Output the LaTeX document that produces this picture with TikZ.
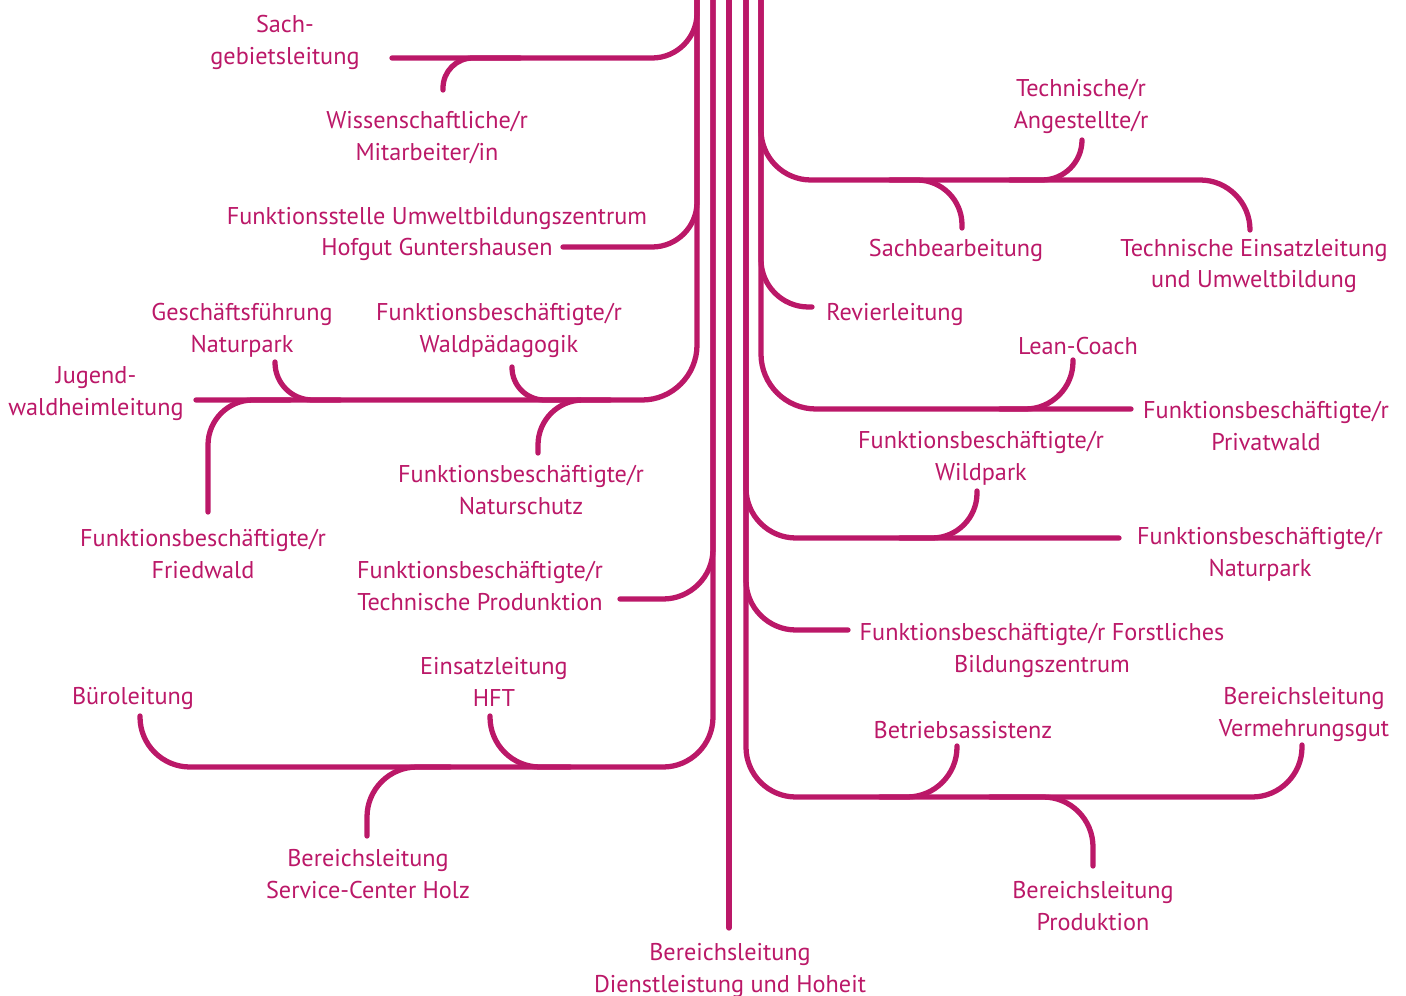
\documentclass[tikz,border=0pt]{standalone}
\usepackage{fontspec}
\setmainfont{PT Sans}
\usetikzlibrary{positioning}
\definecolor{berry}{RGB}{187,24,104}
\tikzset{%
	post/.style={text=berry, align=center, inner sep=0pt, yshift=-0.06cm,
		font=\fontsize{13.8}{18.2}\selectfont},
	stem/.style={draw=berry, line width=3pt, line cap=round},
	bend/.style={stem, rounded corners=#1},
	bend/.default=1cm
}

\begin{document}
\begin{tikzpicture}[x=0.02cm, y=-0.02cm]
	\useasboundingbox (0,0) rectangle (1406,996);

	% labels, left half
	\node[post] (sach) at (285,39) {Sach-\\gebietsleitung};
	\node[post] (wiss) at (427,135) {Wissenschaftliche/r\\Mitarbeiter/in};
	\node[post] (umwelt) at (437,231) {Funktionsstelle Umweltbildungszentrum\\Hofgut Guntershausen};
	\node[post] (jugend) at (96,391) {Jugend-\\waldheimleitung};
	\node[post] (gfnp) at (242,327) {Geschäftsführung\\Naturpark};
	\node[post] (wpaed) at (499,327) {Funktionsbeschäftigte/r\\Waldpädagogik};
	\node[post] (nschutz) at (521,487) {Funktionsbeschäftigte/r\\Naturschutz};
	\node[post] (fried) at (203,551) {Funktionsbeschäftigte/r\\Friedwald};
	\node[post] (tprod) at (480,583) {Funktionsbeschäftigte/r\\Technische Produnktion};
	\node[post] (buero) at (133,695) {Büroleitung};
	\node[post] (hft) at (494,679) {Einsatzleitung\\HFT};
	\node[post] (sch) at (368,871) {Bereichsleitung\\Service-Center Holz};
	\node[post] (dlh) at (730,967) {Bereichsleitung\\Dienstleistung und Hoheit};

	% labels, right half
	\node[post] (tang) at (1081,103) {Technische/r\\Angestellte/r};
	\node[post] (sachb) at (956,247) {Sachbearbeitung};
	\node[post] (teu) at (1254,263) {Technische Einsatzleitung\\und Umweltbildung};
	\node[post, anchor=west] (revier) at (826,311) {Revierleitung};
	\node[post] (lean) at (1078,343) {Lean-Coach};
	\node[post] (privat) at (1266,423) {Funktionsbeschäftigte/r\\Privatwald};
	\node[post] (wild) at (981,455) {Funktionsbeschäftigte/r\\Wildpark};
	\node[post] (fbnp) at (1260,551) {Funktionsbeschäftigte/r\\Naturpark};
	\node[post] (forst) at (1042,647) {Funktionsbeschäftigte/r Forstliches\\Bildungszentrum};
	\node[post] (betrieb) at (963,727) {Betriebsassistenz};
	\node[post] (verm) at (1304,711) {Bereichsleitung\\Vermehrungsgut};
	\node[post] (prod) at (1093,903) {Bereichsleitung\\Produktion};

	% five trunks, cut by the top edge
	\coordinate (top1) at (697,-5);
	\coordinate (top2) at (713,-5);
	\coordinate (top3) at (729,-5);
	\coordinate (top4) at (746,-5);
	\coordinate (top5) at (761,-5);
	\coordinate (foot3) at (729,928);

	% ends of the twigs
	\coordinate (sach-e) at (392,58);
	\coordinate (wiss-e) at (443,90);
	\coordinate (wiss-j) at (520,58);
	\coordinate (umwelt-e) at (563,247);
	\coordinate (jugend-e) at (196,400);
	\coordinate (gfnp-e) at (275,362);
	\coordinate (gfnp-j) at (340,400);
	\coordinate (wpaed-e) at (512,367);
	\coordinate (wpaed-j) at (580,400);
	\coordinate (fried-e) at (208,512);
	\coordinate (fried-j) at (290,400);
	\coordinate (nschutz-e) at (538,453);
	\coordinate (nschutz-j) at (610,400);
	\coordinate (tprod-e) at (620,599);
	\coordinate (buero-c) at (140,767);
	\coordinate (buero-e) at (140,716);
	\coordinate (hft-e) at (490,716);
	\coordinate (hft-j) at (570,767);
	\coordinate (sch-e) at (367,836);
	\coordinate (sch-j) at (450,767);

	\coordinate (tang-e) at (1082,140);
	\coordinate (tang-j) at (1010,180);
	\coordinate (sachb-e) at (962,228);
	\coordinate (sachb-j) at (890,180);
	\coordinate (teu-c) at (1250,180);
	\coordinate (teu-e) at (1250,230);
	\coordinate (revier-e) at (812,307);
	\coordinate (lean-e) at (1073,360);
	\coordinate (lean-j) at (1000,409);
	\coordinate (privat-e) at (1131,409);
	\coordinate (wild-e) at (977,491);
	\coordinate (wild-j) at (900,538);
	\coordinate (fbnp-e) at (1119,538);
	\coordinate (forst-e) at (848,630);
	\coordinate (verm-c) at (1302,797);
	\coordinate (verm-e) at (1302,745);
	\coordinate (betrieb-e) at (957,746);
	\coordinate (betrieb-j) at (880,797);
	\coordinate (prod-e) at (1093,866);
	\coordinate (prod-j) at (990,797);

	% trunk 1
	\draw[bend=0.9cm] (top1) |- (sach-e);
	\draw[bend=0.9cm] (top1) |- (umwelt-e);
	\draw[bend=1.1cm] (top1) |- (jugend-e);
	\draw[bend=0.6cm] (wiss-e) |- (wiss-j);
	\draw[bend=0.75cm] (gfnp-e) |- (gfnp-j);
	\draw[bend=0.65cm] (wpaed-e) |- (wpaed-j);
	\draw[bend=0.9cm] (fried-e) |- (fried-j);
	\draw[bend=0.9cm] (nschutz-e) |- (nschutz-j);
	% trunk 2
	\draw[bend] (top2) |- (tprod-e);
	\draw[bend] (top2) |- (buero-c) -- (buero-e);
	\draw[bend] (hft-e) |- (hft-j);
	\draw[bend] (sch-e) |- (sch-j);
	% trunk 3
	\draw[stem] (top3) -- (foot3);
	% trunk 4
	\draw[bend] (top4) |- (fbnp-e);
	\draw[bend] (top4) |- (forst-e);
	\draw[bend] (top4) |- (verm-c) -- (verm-e);
	\draw[bend=0.9cm] (wild-e) |- (wild-j);
	\draw[bend] (betrieb-e) |- (betrieb-j);
	\draw[bend] (prod-e) |- (prod-j);
	% trunk 5
	\draw[bend] (top5) |- (teu-c) -- (teu-e);
	\draw[bend=0.95cm] (top5) |- (revier-e);
	\draw[bend=1.1cm] (top5) |- (privat-e);
	\draw[bend=0.8cm] (tang-e) |- (tang-j);
	\draw[bend=0.9cm] (sachb-e) |- (sachb-j);
	\draw[bend=0.95cm] (lean-e) |- (lean-j);
\end{tikzpicture}
\end{document}
